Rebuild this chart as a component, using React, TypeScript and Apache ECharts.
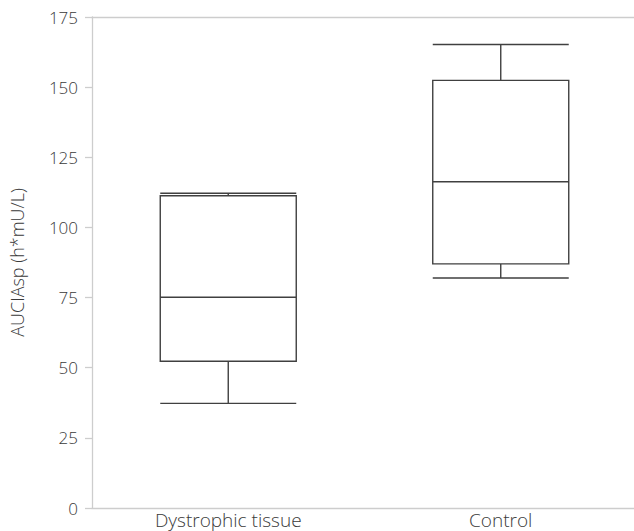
import React, { useEffect, useRef } from "react";
import * as echarts from "echarts";

const categories = ["Dystrophic tissue", "Control"];
// [min, Q1, median, Q3, max]
const dystrophic = [37.3, 52.3, 75.1, 111.3, 112.2];
const control = [82.0, 87.0, 116.3, 152.4, 165.2];
const yTicks = { min: 0, max: 175, interval: 25 };
const yTitle = "AUCIAsp (h*mU/L)";

const FONT = "'Open Sans', 'DejaVu Sans', sans-serif";
const TEXT = "#3a3a3a";
const AXIS = "#cdcdcd";
const BOX = "#404040";

export default function App() {
  const ref = useRef<HTMLDivElement>(null);
  useEffect(() => {
    if (!ref.current) return;
    const chart = echarts.init(ref.current, null, { renderer: "svg" });
    chart.setOption({
      animation: false,
      backgroundColor: "#ffffff",
      grid: { left: 92, right: 3, top: 17, bottom: 23, outerBoundsMode: "none", containLabel: false },
      xAxis: [
        {
          type: "category",
          data: categories,
          boundaryGap: true,
          axisLine: { show: true, lineStyle: { color: AXIS, width: 1.3 } },
          axisTick: { show: false },
          axisLabel: { color: TEXT, fontFamily: FONT, fontSize: 19, fontWeight: 300, margin: 2, lineHeight: 19 },
          splitLine: { show: false },
        },
        {
          type: "category",
          position: "top",
          data: categories,
          axisLine: { show: true, lineStyle: { color: AXIS, width: 1.3 } },
          axisTick: { show: false },
          axisLabel: { show: false },
          splitLine: { show: false },
        },
      ],
      yAxis: {
        type: "value",
        min: yTicks.min,
        max: yTicks.max,
        interval: yTicks.interval,
        name: yTitle,
        nameLocation: "middle",
        nameGap: 66,
        nameRotate: 90,
        nameTextStyle: { color: TEXT, fontFamily: FONT, fontSize: 18, fontWeight: 300 },
        axisLine: { show: true, lineStyle: { color: AXIS, width: 1.3 } },
        axisTick: { show: true, length: 7, lineStyle: { color: AXIS, width: 1.3 } },
        axisLabel: { color: TEXT, fontFamily: FONT, fontSize: 17, fontWeight: 300, margin: 14 },
        splitLine: { show: false },
      },
      series: [
        {
          type: "boxplot",
          xAxisIndex: 0,
          boxWidth: [136, 136],
          itemStyle: { color: "#ffffff", borderColor: BOX, borderWidth: 1.4 },
          data: [dystrophic, control],
        },
      ],
    });
    return () => chart.dispose();
  }, []);
  return (
    <div
      ref={ref}
      style={{ position: "absolute", left: 0, top: 0, width: 640, height: 531 }}
    />
  );
}
